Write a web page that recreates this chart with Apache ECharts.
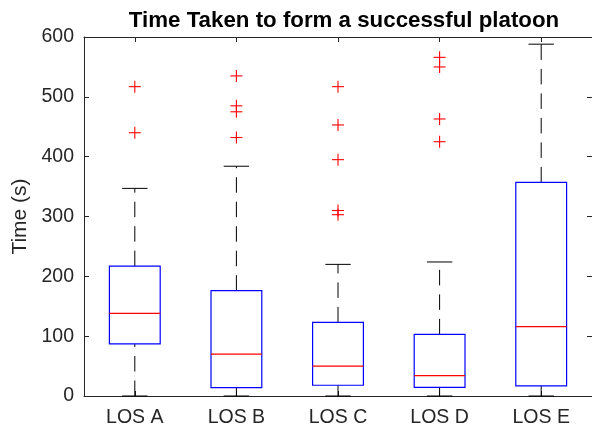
<!DOCTYPE html>
<html>
<head>
<meta charset="utf-8">
<script src="https://cdn.jsdelivr.net/npm/echarts@6/dist/echarts.min.js"></script>
<style>
  html, body { margin: 0; padding: 0; background: #ffffff; }
  #chart { width: 592px; height: 428px; }
</style>
</head>
<body>
<div id="chart"></div>
<script>
// Box-plot statistics per level of service (seconds)
const categories = ['LOS A', 'LOS B', 'LOS C', 'LOS D', 'LOS E'];
const whiskerLow = [0, 0, 0, 0, 0];
const q1 = [87, 14, 18, 14.5, 17];
const median = [138, 70, 50, 34, 116];
const q3 = [217, 176, 123, 103, 357];
const whiskerHigh = [347, 384, 220, 224, 588];
const outliers = [
  [517, 440],
  [535, 485, 475, 432],
  [517, 453, 395, 310, 303],
  [566, 550, 463, 425],
  []
];
const yTicks = [0, 100, 200, 300, 400, 500, 600];

const TEXT = '#262626';
const FONT = 'Liberation Sans, Arial, sans-serif';

const boxData = categories.map((c, i) => [i, whiskerLow[i], q1[i], median[i], q3[i], whiskerHigh[i]]);
const outlierData = [];
outliers.forEach((list, i) => list.forEach(v => outlierData.push([i, v])));

function renderBox(params, api) {
  const idx = api.value(0);
  const band = api.size([1, 0])[0];
  const halfBox = band / 4;
  const halfCap = band / 8;
  const pLow = api.coord([idx, api.value(1)]);
  const pQ1 = api.coord([idx, api.value(2)]);
  const pMed = api.coord([idx, api.value(3)]);
  const pQ3 = api.coord([idx, api.value(4)]);
  const pHigh = api.coord([idx, api.value(5)]);
  const x = pQ1[0];
  const whiskerStyle = { stroke: '#000000', lineWidth: 1, lineDash: [15.5, 9] };
  return {
    type: 'group',
    children: [
      { type: 'line', shape: { x1: x, y1: pLow[1], x2: x, y2: pQ1[1] }, style: whiskerStyle },
      { type: 'line', shape: { x1: x, y1: pQ3[1], x2: x, y2: pHigh[1] }, style: whiskerStyle },
      { type: 'line', shape: { x1: x - halfCap, y1: pLow[1], x2: x + halfCap, y2: pLow[1] }, style: { stroke: '#000000', lineWidth: 1 } },
      { type: 'line', shape: { x1: x - halfCap, y1: pHigh[1], x2: x + halfCap, y2: pHigh[1] }, style: { stroke: '#000000', lineWidth: 1 } },
      { type: 'rect', shape: { x: x - halfBox, y: pQ3[1], width: halfBox * 2, height: pQ1[1] - pQ3[1] }, style: { fill: 'none', stroke: '#0000ff', lineWidth: 1.2 } },
      { type: 'line', shape: { x1: x - halfBox, y1: pMed[1], x2: x + halfBox, y2: pMed[1] }, style: { stroke: '#ff0000', lineWidth: 1.2 } }
    ]
  };
}

function renderOutlier(params, api) {
  const p = api.coord([api.value(0), api.value(1)]);
  const s = 6;
  const st = { stroke: '#ff0000', lineWidth: 1.1 };
  return {
    type: 'group',
    children: [
      { type: 'line', shape: { x1: p[0] - s, y1: p[1], x2: p[0] + s, y2: p[1] }, style: st },
      { type: 'line', shape: { x1: p[0], y1: p[1] - s, x2: p[0], y2: p[1] + s }, style: st }
    ]
  };
}

const axisLine = { show: true, onZero: false, lineStyle: { color: TEXT, width: 1 } };
const axisTick = { show: true, inside: true, length: 5, lineStyle: { color: TEXT } };

const chart = echarts.init(document.getElementById('chart'), null, { renderer: 'canvas' });
chart.setOption({
  animation: false,
  backgroundColor: '#ffffff',
  title: {
    text: 'Time Taken to form a successful platoon',
    left: 339,
    textAlign: 'center',
    top: 5,
    textStyle: { fontFamily: FONT, fontSize: 22.3, fontWeight: 'bold', color: '#000000' }
  },
  grid: { left: 84, top: 37, width: 510, height: 359 },
  xAxis: [
    {
      type: 'category', data: categories, position: 'bottom',
      axisLine, axisTick: Object.assign({ alignWithLabel: true }, axisTick),
      axisLabel: { fontFamily: FONT, fontSize: 19.5, color: TEXT, margin: 12 },
      splitLine: { show: false }
    },
    {
      type: 'category', data: categories, position: 'top',
      axisLine, axisTick: Object.assign({ alignWithLabel: true }, axisTick),
      axisLabel: { show: false }, splitLine: { show: false }
    }
  ],
  yAxis: [
    {
      type: 'value', min: 0, max: 600, interval: 100, position: 'left',
      axisLine, axisTick,
      axisLabel: { fontFamily: FONT, fontSize: 19.5, color: TEXT, margin: 10,
        formatter: v => (yTicks.indexOf(v) >= 0 ? String(v) : '') },
      splitLine: { show: false },
      name: 'Time (s)', nameLocation: 'middle', nameGap: 50,
      nameTextStyle: { fontFamily: FONT, fontSize: 21, color: TEXT }
    },
    {
      type: 'value', min: 0, max: 600, interval: 100, position: 'right',
      axisLine, axisTick, axisLabel: { show: false }, splitLine: { show: false }
    }
  ],
  series: [
    { type: 'custom', xAxisIndex: 0, yAxisIndex: 0, data: boxData, renderItem: renderBox, clip: false,
      encode: { x: 0, y: [1, 2, 3, 4, 5] } },
    { type: 'custom', xAxisIndex: 0, yAxisIndex: 0, data: outlierData, renderItem: renderOutlier, clip: false,
      encode: { x: 0, y: 1 } }
  ]
});
</script>
</body>
</html>
